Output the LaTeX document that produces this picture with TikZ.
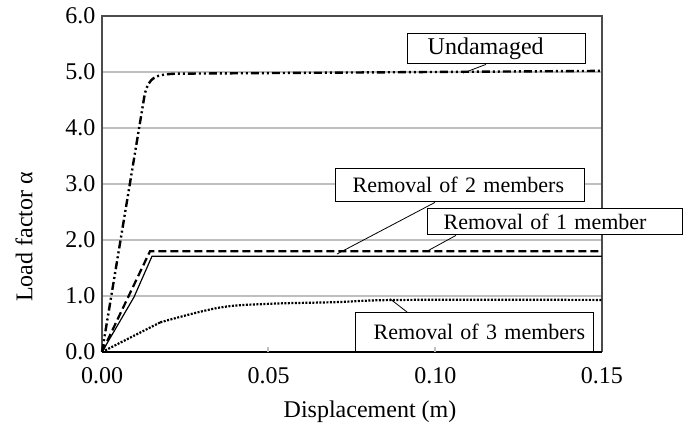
\documentclass[tikz,border=0pt]{standalone}
\usepackage{fontspec}
\setmainfont{Liberation Serif}
\usetikzlibrary{positioning}

\begin{document}
\begin{tikzpicture}[
    x=1pt, y=1pt,
    font=\fontsize{24pt}{28pt}\selectfont,
    gridline/.style={draw=black!25, line width=1.2pt},
    axisline/.style={draw=black!70, line width=1.5pt},
    callout/.style={rectangle, draw, fill=white, line width=1.4pt, inner xsep=0pt, inner ysep=0pt, align=left},
    small/.style={font=\fontsize{22pt}{26pt}\selectfont},
    leader/.style={black, line width=0.8pt},
    intact/.style={line width=2.4pt, dash pattern=on 8pt off 3pt on 2pt off 3pt on 2pt off 3pt},
    oneoff/.style={line width=2.2pt, dash pattern=on 8pt off 4pt},
    twooff/.style={line width=1.2pt},
    threeoff/.style={line width=2.2pt, dash pattern=on 2pt off 1.5pt}
]
    \useasboundingbox (0,0) rectangle (690,428);

    % plot area in data units
    \begin{scope}[shift={(102,76)}, x=3333.33pt, y=56pt]
        \foreach \v in {1,...,5}
            \draw[gridline] (0,\v) -- (0.15,\v);
        \draw[axisline] (0,0) -- (0,6) -- (0.15,6) -- (0.15,0);
        \draw[line width=1.5pt] (0,0) -- (0.15,0);

        \foreach \v in {0,...,6}
            \node[anchor=east, inner sep=0pt] (ytick\v) at (-0.0019,\v) {\v.0};
        \foreach \v/\t [count=\k] in {0/0.00, 0.05/0.05, 0.10/0.10, 0.15/0.15}
            \node (xtick\k) at (\v,-0.42) {\t};

        % load-displacement curves
        \draw[intact] (0,0) -- (0.0128,4.6) .. controls (0.0142,4.92) and (0.016,4.95) .. (0.022,4.97) -- (0.15,5.02);
        \draw[oneoff] (0,0) -- (0.0144,1.80) -- (0.15,1.80);
        \draw[twooff] (0,0) -- (0.0096,0.98) -- (0.015,1.71) -- (0.15,1.71);
        \draw[threeoff] (0,0) -- (0.0175,0.53) plot[smooth, tension=0.6] coordinates {(0.0175,0.53) (0.035,0.79) (0.05,0.86) (0.07,0.89) (0.09,0.93) (0.15,0.93)};

        \coordinate (onund) at (0.1083,4.98);
        \coordinate (onrem2) at (0.0705,1.75);
        \coordinate (onrem1) at (0.0975,1.80);
        \coordinate (onrem3) at (0.0864,0.95);
    \end{scope}

    \node[callout, text width=178pt, minimum height=30pt, anchor=north west] (undam) at (407,395) {\hspace*{20pt}Undamaged};
    \node[callout, small, text width=249pt, minimum height=33pt, anchor=north west] (rem2) at (335,260) {\hspace*{17pt}Removal of 2 members};
    \node[callout, small, text width=255pt, minimum height=26pt, anchor=north west] (rem1) at (427,220) {\hspace*{16pt}Removal of 1 member};
    \node[callout, small, text width=238pt, minimum height=39pt, anchor=north west] (rem3) at (355,116) {\hspace*{18pt}Removal of 3 members};

    \draw[leader] ([xshift=79pt]undam.south west) -- (onund);
    \draw[leader] ([xshift=100pt]rem2.south west) -- (onrem2);
    \draw[leader] ([xshift=29pt]rem1.south west) -- (onrem1);
    \draw[leader] ([xshift=52pt]rem3.north west) -- (onrem3);

    % small ticks on the x axis
    \foreach \v in {268,435}
        \draw[gridline] (\v,76) -- (\v,81);

    \node (xtitle) at (370,16) {Displacement (m)};
    \node[rotate=90] (ytitle) at (24,191) {Load factor α};
\end{tikzpicture}
\end{document}
